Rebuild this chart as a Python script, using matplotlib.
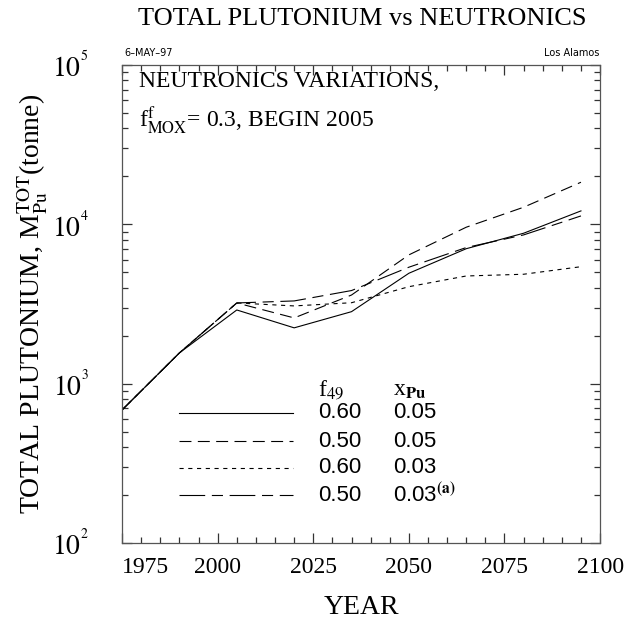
import matplotlib
matplotlib.use("Agg")
import matplotlib.pyplot as plt
from matplotlib.ticker import LogLocator, MultipleLocator, NullFormatter
from matplotlib.transforms import ScaledTranslation

years = [1975, 1990, 2005, 2020, 2035, 2050, 2065, 2080, 2095]

# total plutonium (tonne) for each neutronics case
pu_060_005 = [684, 1560, 2900, 2240, 2830, 4930, 7030, 8790, 12140]
pu_050_005 = [684, 1560, 3210, 2585, 3600, 6430, 9590, 12800, 18370]
pu_060_003 = [684, 1560, 3210, 3075, 3220, 4060, 4740, 4860, 5420]
pu_050_003 = [684, 1560, 3210, 3305, 3840, 5380, 7150, 8580, 11290]

f49 = ["0.60", "0.50", "0.60", "0.50"]
xpu = ["0.05", "0.05", "0.03", r"0.03$^{\mathbf{(a)}}$"]

plt.rcParams['font.family'] = ['Liberation Serif', 'DejaVu Serif']
plt.rcParams['mathtext.fontset'] = 'stix'
plt.rcParams['lines.scale_dashes'] = False

fig = plt.figure(figsize=(6.26, 6.26), dpi=100)
ax = fig.add_axes([0.195, 0.1326, 0.7636, 0.7636])

styles = [
    dict(linestyle='-'),
    dict(linestyle=(0, (8.6, 4.6))),
    dict(linestyle=(0, (3.0, 3.3))),
    dict(linestyle=(0, (18.5, 4.8, 8.0, 4.8))),
]
series = [pu_060_005, pu_050_005, pu_060_003, pu_050_003]
for vals, st in zip(series, styles):
    ax.plot(years, vals, color='black', lw=0.8, **st)

ax.set_yscale('log')
ax.set_xlim(1975, 2100)
ax.set_ylim(1e2, 1e5)
ax.set_xticks([1975, 2000, 2025, 2050, 2075, 2100])
ax.xaxis.set_minor_locator(MultipleLocator(5))
ax.yaxis.set_major_locator(LogLocator(base=10))
ax.yaxis.set_minor_locator(LogLocator(base=10, subs=range(2, 10)))
ax.yaxis.set_minor_formatter(NullFormatter())
ax.set_yticks([1e2, 1e3, 1e4, 1e5])
ax.set_yticklabels([r'$10^{^2}$', r'$10^{^3}$', r'$10^{^4}$', r'$10^{^5}$'])
ax.tick_params(which='both', direction='in', top=True, right=True, width=0.9, color='#333333')
ax.tick_params(which='major', length=7, labelsize=17, pad=10)
ax.tick_params(which='minor', length=4)
ax.tick_params(axis='y', labelsize=20, pad=24)
for sp in ax.spines.values():
    sp.set_color('#555555')
    sp.set_linewidth(0.9)

# first year label sits right of the axis corner
lab0 = ax.get_xticklabels()[0]
lab0.set_transform(lab0.get_transform() + ScaledTranslation(0.23, 0, fig.dpi_scale_trans))

ax.set_xlabel('YEAR', fontsize=20, labelpad=12)
ax.set_ylabel(r'TOTAL PLUTONIUM, M$^{\mathrm{TOT}}_{\mathrm{Pu}}$(tonne)', fontsize=20, labelpad=1)
fig.text(0.578, 0.97, 'TOTAL PLUTONIUM vs NEUTRONICS', fontsize=19, ha='center', va='center')
fig.text(0.199, 0.908, '6\u2013MAY\u201397', fontsize=7, family='DejaVu Sans', ha='left', va='bottom')
fig.text(0.958, 0.908, 'Los Alamos', fontsize=7, family='DejaVu Sans', ha='right', va='bottom')

ax.text(0.036, 0.954, 'NEUTRONICS VARIATIONS,', transform=ax.transAxes, fontsize=17, va='baseline')
ax.text(0.036, 0.868, r'f$^{\mathrm{f}}_{\mathrm{MOX}}$= 0.3, BEGIN 2005', transform=ax.transAxes,
        fontsize=17, va='baseline')

# legend table
ax.text(0.41, 0.32, r'f$_{\mathrm{49}}$', transform=ax.transAxes, fontsize=17, va='center')
ax.text(0.567, 0.32, r'x$_{\mathbf{Pu}}$', transform=ax.transAxes, fontsize=17, va='center')
rows = [0.272, 0.213, 0.157, 0.100]
for ry, st, a, b in zip(rows, styles, f49, xpu):
    ax.plot([0.119, 0.358], [ry, ry], transform=ax.transAxes, color='black', lw=0.8, **st)
    ax.text(0.41, ry, a, transform=ax.transAxes, fontsize=16, family='Liberation Sans', va='center')
    ax.text(0.567, ry, b, transform=ax.transAxes, fontsize=16, family='Liberation Sans', va='center')

fig.savefig('out.png', dpi=100)
